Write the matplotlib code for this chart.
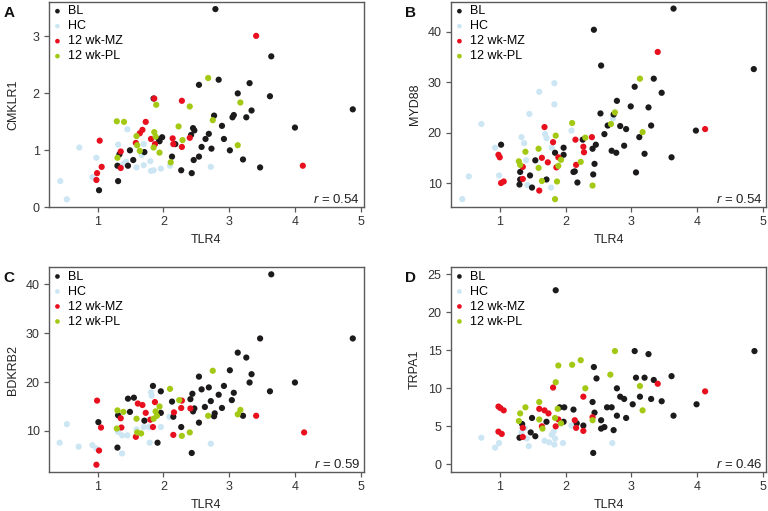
import matplotlib
matplotlib.use("Agg")
import matplotlib.pyplot as plt

plt.rcParams["font.family"] = ["Liberation Sans", "DejaVu Sans"]
plt.rcParams["mathtext.fontset"] = "custom"
plt.rcParams["mathtext.it"] = "Liberation Sans:italic"
plt.rcParams["mathtext.rm"] = "Liberation Sans"

groups = ["BL", "HC", "12 wk-MZ", "12 wk-PL"]
colors = ["#1c1a1a", "#cce6f4", "#e8101e", "#a3c914"]

# Panel A: TLR4 vs CMKLR1
a_bl = [(1.85, 1.91), (1.02, 0.30), (1.31, 0.46), (1.30, 0.73), (1.33, 0.93), (1.49, 1.00),
        (1.46, 0.73), (1.54, 0.83), (1.71, 0.97), (1.93, 1.19), (1.98, 1.23), (1.94, 1.16),
        (2.13, 0.89), (2.18, 1.11), (2.27, 0.65), (2.79, 3.48), (3.64, 2.65), (2.84, 2.24),
        (2.54, 2.15), (3.31, 2.18), (3.13, 2.00), (3.62, 1.95), (4.88, 1.72), (3.34, 1.70),
        (2.77, 1.61), (3.07, 1.62), (3.05, 1.58), (3.26, 1.58), (2.89, 1.43), (4.00, 1.40),
        (2.45, 1.39), (2.47, 1.35), (2.42, 1.27), (2.69, 1.29), (2.64, 1.20), (2.92, 1.20),
        (2.58, 1.06), (2.73, 1.03), (3.01, 1.00), (2.54, 0.89), (2.46, 0.83), (3.21, 0.84),
        (3.47, 0.70), (2.43, 0.60)]
a_hc = [(0.43, 0.46), (0.53, 0.14), (0.72, 1.05), (0.98, 0.87), (0.92, 0.53), (1.31, 1.10),
        (1.45, 1.37), (1.43, 0.80), (1.39, 0.76), (1.59, 0.70), (1.70, 1.11), (1.70, 0.74),
        (1.80, 0.81), (1.81, 0.64), (1.85, 0.65), (1.96, 0.68), (2.10, 0.73), (1.67, 0.92),
        (2.72, 0.71), (1.82, 1.20)]
a_mz = [(1.03, 1.17), (1.06, 0.71), (0.99, 0.60), (0.98, 0.48), (1.35, 0.98), (1.35, 0.69),
        (1.73, 1.50), (1.68, 1.36), (1.64, 1.30), (1.58, 1.13), (1.81, 1.20), (1.87, 1.11),
        (1.86, 1.91), (2.14, 1.21), (2.15, 1.11), (2.28, 1.06), (2.28, 1.87), (3.41, 3.01),
        (4.12, 0.73), (2.40, 1.22)]
a_pl = [(1.29, 1.51), (1.40, 1.50), (1.30, 0.87), (1.59, 1.25), (1.60, 1.09), (1.64, 0.99),
        (1.86, 1.32), (1.88, 1.24), (1.85, 1.05), (1.89, 1.80), (1.94, 0.96), (2.11, 0.79),
        (2.23, 1.42), (2.29, 1.18), (2.40, 1.77), (2.68, 2.27), (3.17, 1.84), (2.75, 1.53),
        (3.13, 1.09)]

# Panel B: TLR4 vs MYD88
b_bl = [(1.02, 17.6), (1.31, 12.2), (1.31, 10.7), (1.30, 9.7), (1.46, 11.5), (1.49, 9.1),
        (1.54, 14.5), (1.71, 10.7), (1.84, 16.0), (1.97, 15.6), (1.97, 17.0), (2.12, 12.2),
        (3.64, 44.6), (2.43, 40.4), (2.54, 33.3), (4.86, 32.6), (3.34, 30.7), (3.05, 29.1),
        (3.46, 27.9), (2.78, 26.3), (2.99, 25.2), (3.26, 25.0), (2.53, 23.8), (2.73, 23.6),
        (2.64, 21.4), (2.83, 21.3), (2.92, 20.7), (3.30, 21.4), (3.98, 20.4), (2.59, 19.7),
        (3.12, 19.1), (2.26, 18.6), (2.46, 17.6), (2.41, 16.8), (2.89, 17.4), (2.70, 16.4),
        (2.77, 16.0), (3.20, 15.8), (3.61, 15.1), (2.44, 13.8), (3.07, 12.1), (2.42, 11.7),
        (2.14, 12.3), (2.18, 10.1)]
b_hc = [(0.43, 6.8), (0.53, 11.3), (0.72, 21.7), (0.93, 17.0), (0.99, 11.5), (1.33, 19.1),
        (1.37, 17.9), (1.45, 23.7), (1.42, 9.6), (1.60, 28.1), (1.83, 29.8), (1.83, 25.6),
        (1.69, 19.7), (1.71, 18.9), (1.79, 17.0), (1.78, 9.1), (2.09, 20.4), (2.72, 22.8),
        (1.40, 14.5)]
b_mz = [(0.98, 15.6), (1.00, 15.1), (1.02, 10.0), (1.06, 10.3), (1.35, 13.2), (1.35, 10.8),
        (1.64, 15.0), (1.68, 21.1), (1.73, 14.1), (1.81, 18.1), (1.60, 8.5), (1.86, 13.1),
        (1.89, 15.1), (2.15, 18.6), (3.40, 36.0), (4.12, 20.7), (2.40, 19.1), (2.27, 17.2),
        (2.28, 16.1), (2.16, 13.6)]
b_pl = [(1.29, 14.3), (1.31, 13.6), (1.39, 16.2), (1.59, 16.8), (1.59, 13.0), (1.64, 10.4),
        (1.85, 19.4), (1.87, 10.3), (1.84, 6.8), (1.89, 13.4), (1.93, 14.6), (2.10, 21.9),
        (3.13, 30.7), (2.75, 24.0), (2.69, 21.7), (3.17, 20.1), (2.30, 19.0), (2.23, 14.2),
        (2.41, 9.5)]

# Panel C: TLR4 vs BDKRB2
c_bl = [(1.84, 19.2), (1.96, 18.1), (1.46, 16.6), (1.55, 16.8), (1.49, 13.9), (1.01, 11.8),
        (1.31, 13.2), (1.30, 6.6), (1.71, 12.1), (1.96, 13.7), (1.91, 7.6), (2.13, 16.0),
        (2.15, 12.9), (2.27, 10.8), (3.64, 42.0), (3.47, 28.9), (4.88, 28.9), (3.13, 26.0),
        (3.26, 25.0), (3.01, 22.4), (3.34, 21.6), (2.54, 21.1), (3.31, 19.9), (4.00, 19.9),
        (2.92, 19.2), (2.69, 18.9), (2.58, 18.5), (3.62, 18.1), (2.44, 17.6), (3.07, 17.8),
        (2.84, 17.4), (2.41, 16.5), (2.72, 16.1), (3.04, 16.3), (2.63, 14.9), (2.89, 14.7),
        (2.47, 14.6), (2.45, 14.0), (2.78, 13.6), (2.77, 13.0), (3.21, 13.1), (2.54, 11.7),
        (2.43, 5.5)]
c_hc = [(0.42, 7.6), (0.53, 11.4), (0.71, 6.8), (0.92, 7.1), (0.98, 6.4), (1.31, 9.8),
        (1.37, 9.1), (1.45, 9.1), (1.37, 5.4), (1.59, 10.3), (1.70, 10.8), (1.81, 17.9),
        (1.82, 17.2), (1.79, 7.6), (1.96, 10.8), (2.09, 12.9), (1.78, 10.8), (2.72, 7.4)]
c_mz = [(0.99, 16.2), (1.05, 10.7), (1.02, 6.0), (0.98, 3.1), (1.35, 12.6), (1.36, 10.7),
        (1.61, 15.6), (1.68, 15.3), (1.73, 13.7), (1.58, 8.8), (1.84, 10.8), (1.87, 15.9),
        (1.80, 12.3), (2.16, 13.8), (2.15, 9.2), (2.28, 16.2), (2.27, 14.7), (2.41, 14.6),
        (3.41, 13.1), (4.14, 9.7)]
c_pl = [(1.30, 14.2), (1.39, 13.9), (1.29, 10.5), (1.59, 12.5), (1.60, 9.7), (1.66, 9.5),
        (1.85, 12.5), (1.88, 14.0), (1.90, 13.1), (1.94, 15.0), (2.10, 18.6), (2.24, 16.3),
        (2.28, 9.0), (2.40, 9.7), (2.75, 22.3), (3.17, 14.3), (3.13, 13.4), (2.68, 13.1)]

# Panel D: TLR4 vs TRPA1
d_bl = [(1.85, 22.9), (1.91, 7.5), (1.98, 7.5), (2.12, 7.2), (1.49, 6.1), (1.71, 5.6),
        (1.97, 5.6), (1.34, 5.3), (1.47, 4.2), (1.54, 3.7), (1.30, 3.5), (4.87, 14.9),
        (3.05, 14.9), (3.26, 14.5), (2.43, 12.8), (2.47, 11.3), (3.61, 11.6), (3.07, 11.4),
        (3.20, 11.4), (3.34, 11.1), (2.78, 10.0), (2.83, 8.9), (2.89, 8.6), (3.13, 8.9),
        (3.30, 8.6), (3.46, 8.3), (2.41, 8.2), (3.02, 7.9), (3.99, 7.9), (2.63, 7.5),
        (2.70, 7.5), (2.44, 6.8), (2.78, 6.4), (2.92, 6.1), (3.64, 6.4), (2.54, 5.8),
        (2.17, 5.4), (2.27, 5.1), (2.54, 4.7), (2.59, 4.9), (2.73, 4.5), (2.42, 1.5)]
d_hc = [(0.72, 3.5), (0.93, 2.2), (0.99, 2.8), (1.33, 4.2), (1.38, 4.8), (1.44, 2.4),
        (1.41, 3.4), (1.68, 3.1), (1.75, 2.9), (1.79, 3.9), (1.83, 2.6), (1.84, 3.4),
        (1.96, 2.8), (2.09, 5.1), (1.82, 4.3), (2.71, 2.8)]
d_mz = [(0.98, 7.6), (1.01, 7.4), (1.06, 7.1), (0.98, 4.3), (1.03, 4.0), (1.35, 4.8),
        (1.35, 3.6), (1.60, 7.3), (1.64, 5.0), (1.68, 7.1), (1.74, 6.7), (1.81, 10.1),
        (1.85, 5.0), (1.89, 5.9), (2.14, 5.8), (3.40, 10.6), (4.12, 9.6), (2.27, 8.9),
        (2.41, 6.2), (2.16, 4.8), (2.27, 4.4)]
d_pl = [(1.29, 5.7), (1.31, 6.7), (1.39, 7.5), (1.60, 8.2), (1.60, 5.9), (1.65, 4.7),
        (1.85, 10.8), (1.89, 13.0), (1.88, 7.3), (1.84, 6.1), (1.93, 5.4), (2.10, 13.1),
        (2.75, 14.9), (2.23, 13.7), (2.68, 11.8), (2.30, 10.0), (3.13, 10.3), (3.17, 7.1),
        (2.41, 5.8)]

panels = [
    ("A", "CMKLR1", [a_bl, a_hc, a_mz, a_pl], "0.54", (0, 3.61), [0, 1, 2, 3]),
    ("B", "MYD88", [b_bl, b_hc, b_mz, b_pl], "0.54", (5.18, 45.97), [10, 20, 30, 40]),
    ("C", "BDKRB2", [c_bl, c_hc, c_mz, c_pl], "0.59", (1.55, 43.5), [10, 20, 30, 40]),
    ("D", "TRPA1", [d_bl, d_hc, d_mz, d_pl], "0.46", (-1.05, 25.96), [0, 5, 10, 15, 20, 25]),
]

# axes boxes in figure fraction
boxes = [
    [0.0634, 0.5943, 0.4105, 0.4024],
    [0.5868, 0.5943, 0.4110, 0.4024],
    [0.0634, 0.0757, 0.4105, 0.4018],
    [0.5868, 0.0757, 0.4110, 0.4018],
]

fig = plt.figure(figsize=(7.68, 5.11), dpi=100)

draw_order = [1, 0, 2, 3]  # HC underneath

for (letter, ylab, data, r, ylim, yticks), box in zip(panels, boxes):
    ax = fig.add_axes(box)
    handles = [None] * 4
    for i in draw_order:
        xs = [p[0] for p in data[i]]
        ys = [p[1] for p in data[i]]
        handles[i] = ax.scatter(xs, ys, s=20, color=colors[i], edgecolors="none",
                                label=groups[i], zorder=2)
    ax.set_xlim(0.254, 5.05)
    ax.set_ylim(*ylim)
    ax.set_xticks([1, 2, 3, 4, 5])
    ax.set_yticks(yticks)
    for s in ax.spines.values():
        s.set_color("#5a5a5a")
        s.set_linewidth(1.0)
    ax.tick_params(length=3.5, width=0.9, color="#5a5a5a", labelsize=9,
                   labelcolor="#333333", pad=3)
    ax.set_xlabel("TLR4", fontsize=9, color="#222222", va="center")
    ax.xaxis.set_label_coords(0.5, -0.16)
    ax.set_ylabel(ylab, fontsize=9, color="#222222", va="center")
    ax.yaxis.set_label_coords(-0.113, 0.5)
    ax.legend(handles=handles, loc="upper left", frameon=False, fontsize=9,
              handletextpad=0.45, labelspacing=0.24, borderaxespad=0.1,
              borderpad=0.2, handlelength=0.8, scatterpoints=1, markerscale=0.75)
    ax.text(0.988, 0.04, r"$r$ = " + r, transform=ax.transAxes, ha="right",
            va="center", fontsize=9.5, color="#222222")
    fig.text(box[0] - 0.059, box[1] + box[3] - 0.008, letter, ha="left", va="top",
             fontsize=11, fontweight="bold", color="#111111")

fig.savefig("out.png", dpi=100)
